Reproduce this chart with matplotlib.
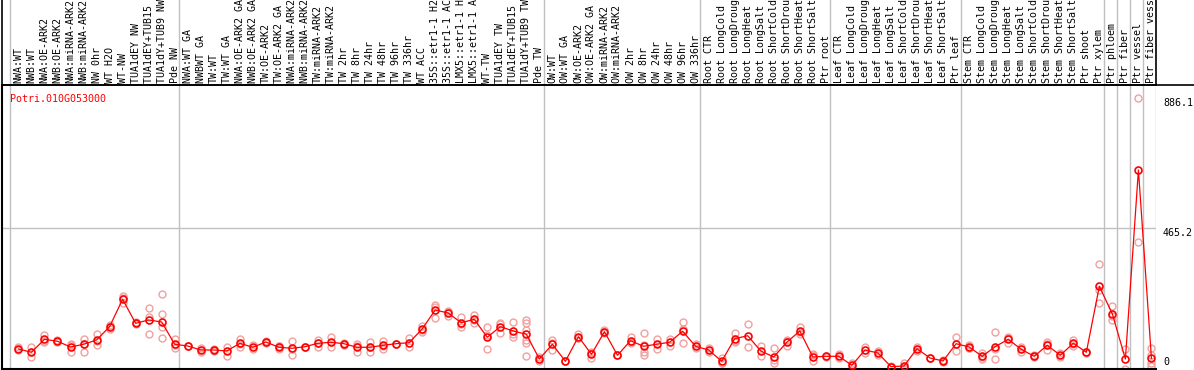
import matplotlib
matplotlib.use("Agg")
import matplotlib.pyplot as plt
from matplotlib.lines import Line2D
from matplotlib.transforms import blended_transform_factory

gene = "Potri.010G053000"

samples = [
    "NWA:WT", "NWB:WT", "NWA:OE-ARK2", "NWB:OE-ARK2", "NWA:miRNA-ARK2", "NWB:miRNA-ARK2",
    "NW 0hr", "WT H2O", "WT-NW", "TUA1dEY NW", "TUA1dEY+TUB15 NW", "TUA1dY+TUB9 NW", "Pde NW",
    "NWA:WT GA", "NWBWT GA", "TW:WT", "TW:WT GA", "NWA:OE-ARK2 GA", "NWB:OE-ARK2 GA",
    "TW:OE-ARK2", "TW:OE-ARK2 GA", "NWA:miRNA-ARK2 GA", "NWB:miRNA-ARK2 GA", "TW:miRNA-ARK2",
    "TW:miRNA-ARK2 GA", "TW 2hr", "TW 8hr", "TW 24hr", "TW 48hr", "TW 96hr", "TW 336hr",
    "WT ACC", "35S::etr1-1 H2O", "35S::etr1-1 ACC", "LMX5::etr1-1 H2O", "LMX5::etr1-1 ACC",
    "WT-TW", "TUA1dEY TW", "TUA1dEY+TUB15 TW", "TUA1dY+TUB9 TW", "Pde TW",
    "OW:WT", "OW:WT GA", "OW:OE-ARK2", "OW:OE-ARK2 GA", "OW:miRNA-ARK2", "OW:miRNA-ARK2 GA",
    "OW 2hr", "OW 8hr", "OW 24hr", "OW 48hr", "OW 96hr", "OW 336hr",
    "Root CTR", "Root LongCold", "Root LongDrought", "Root LongHeat", "Root LongSalt",
    "Root ShortCold", "Root ShortDrought", "Root ShortHeat", "Root ShortSalt", "Ptr root",
    "Leaf CTR", "Leaf LongCold", "Leaf LongDrought", "Leaf LongHeat", "Leaf LongSalt",
    "Leaf ShortCold", "Leaf ShortDrought", "Leaf ShortHeat", "Leaf ShortSalt", "Ptr leaf",
    "Stem CTR", "Stem LongCold", "Stem LongDrought", "Stem LongHeat", "Stem LongSalt",
    "Stem ShortCold", "Stem ShortDrought", "Stem ShortHeat", "Stem ShortSalt", "Ptr shoot",
    "Ptr xylem", "Ptr phloem", "Ptr fiber", "Ptr vessel", "Ptr fiber vessel",
]

means = [
    73.5, 62.8, 104.9, 98.4, 80.0, 88.7, 102.6, 145.7, 234.4, 156.7, 167.4, 160.9, 88.7,
    83.2, 70.2, 70.2, 67.0, 91.9, 79.0, 96.1, 79.0, 75.7, 80.9, 91.9, 95.2, 90.6, 79.0,
    79.0, 85.5, 90.6, 93.9, 138.2, 199.7, 190.0, 158.6, 169.6, 111.4, 145.7, 131.7, 121.1, 41.1,
    88.7, 33.7, 113.3, 56.3, 129.5, 53.1, 100.3, 82.2, 88.7, 95.2, 130.8, 82.2,
    70.2, 33.7, 106.8, 116.5, 67.0, 47.6, 95.2, 131.7, 47.6, 49.8,
    49.8, 20.7, 70.2, 60.5, 16.2, 18.5, 74.5, 44.3, 34.6, 90.6,
    80.0, 49.8, 80.9, 104.9, 72.5, 49.8, 85.5, 53.1, 91.9, 62.8, 276.4,
    186.8, 41.1, 652.9, 43.4,
]

replicates = [
    [79, 70], [79, 49], [119, 100, 96], [102, 95], [86, 63, 91], [106, 63, 89], [122, 87, 100],
    [137, 148, 152], [221, 238, 244], [160, 154], [205, 121, 176], [250, 187, 144, 108], [105, 76, 85],
    [83, 83], [76, 65], [75, 68], [81, 52], [106, 79, 90], [72, 86], [98, 94], [83, 72, 82],
    [99, 54, 74], [81, 80], [103, 79, 94], [111, 79], [91, 93, 88], [90, 65, 82], [95, 63, 79],
    [100, 72, 84], [91, 90], [109, 79], [149, 130, 136], [215, 175, 209], [194, 180, 196],
    [178, 154, 144], [184, 157, 168], [144, 72, 118], [159, 124, 154], [161, 113, 121],
    [167, 157, 135, 103, 92, 52], [49, 33],
    [103, 70, 93], [34, 33], [122, 108, 110], [65, 43, 61], [135, 126, 128], [53, 54],
    [113, 92, 96], [124, 65, 54, 86], [105, 72], [107, 83], [161, 92, 139], [90, 76],
    [76, 65], [43, 29, 29], [124, 97, 99], [153, 81], [83, 51], [76, 29, 38], [103, 83, 100],
    [146, 122, 127], [56, 33, 54], [50, 49],
    [57, 43], [27, 15], [81, 59], [67, 54], [18, 14], [27, 16, 12], [81, 68], [44, 45],
    [38, 31], [113, 68],
    [86, 76, 78], [59, 42, 48], [128, 42, 72], [113, 94, 108], [81, 65], [54, 46], [96, 70, 90],
    [59, 47], [103, 83, 90], [63, 62], [349, 264, 221],
    [213, 167, 180], [72, 10], [886.1, 418.9], [76, 27, 18, 53],
]

group_starts = [0, 13, 41, 53, 63, 73, 84, 85, 86, 87, 88]
axis_ticks = [0, 465.2, 886.1]
axis_tick_labels = ["0", "465.2", "886.1"]

W, H = 1194, 370
DPI = 100
fig = plt.figure(figsize=(W / DPI, H / DPI), dpi=DPI)
fig.patch.set_facecolor("white")


def rect(x0, y0, x1, y1):
    return [x0 / W, 1 - y1 / H, (x1 - x0) / W, (y1 - y0) / H]


MONO = "DejaVu Sans Mono"
FS = 7.2
GRID = "#c0c0c0"
OFF = 0.65
xlim = (-2 * OFF, len(samples) - OFF)

# main plot axes
ax = fig.add_axes(rect(1.5, 85, 1156, 369))
ax.set_xlim(*xlim)
ax.set_ylim(8.7, 928.1)
for s in ["top", "right"]:
    ax.spines[s].set_visible(False)
for s in ["left", "bottom"]:
    ax.spines[s].set_linewidth(1.5)
    ax.spines[s].set_color("black")
ax.set_xticks([])
ax.set_yticks([])

for g in group_starts:
    ax.axvline(g - OFF, color=GRID, lw=1.0, zorder=1)
ax.axhline(axis_ticks[1], color=GRID, lw=1.0, zorder=1)

xs = list(range(len(samples)))
rx, ry = [], []
for i, reps in enumerate(replicates):
    for r in reps:
        rx.append(i)
        ry.append(r)
ax.plot(rx, ry, linestyle="none", marker="o", ms=5.0, mfc="none", mec="#f0a0a0",
        mew=1.0, zorder=2, clip_on=False)
ax.plot(xs, means, color="red", lw=0.9, zorder=3, clip_on=False)
ax.plot(xs, means, linestyle="none", marker="o", ms=5.0, mfc="none", mec="red",
        mew=1.2, zorder=4, clip_on=False)

ax.text(-0.65, 0.97, gene, transform=blended_transform_factory(ax.transData, ax.transAxes),
        color="red", fontsize=FS, family=MONO, ha="left", va="top")

tr = blended_transform_factory(ax.transAxes, ax.transData)
ax.text(1.006, axis_ticks[2], axis_tick_labels[2], transform=tr, fontsize=FS, family=MONO,
        ha="left", va="top", clip_on=False)
ax.text(1.006, axis_ticks[1], axis_tick_labels[1], transform=tr, fontsize=FS, family=MONO,
        ha="left", va="top", clip_on=False)
ax.text(1.006, 0.025, axis_tick_labels[0], transform=ax.transAxes, fontsize=FS, family=MONO,
        ha="left", va="center", clip_on=False)

# label header axes
lab = fig.add_axes(rect(1.5, 0, 1156, 85))
lab.set_xlim(*xlim)
lab.set_ylim(0, 1)
lab.set_xticks([])
lab.set_yticks([])
for s in lab.spines.values():
    s.set_linewidth(1.2)
    s.set_color("black")
lab.spines["top"].set_visible(False)
for g in group_starts[:-1]:
    lab.axvline(g - OFF, color=GRID, lw=1.0, zorder=1)
for i, name in enumerate(samples):
    lab.text(i, 0.02, name, rotation=90, fontsize=FS, family=MONO,
             ha="center", va="bottom", clip_on=True)

fig.add_artist(Line2D([1.5 / W, 1.0], [1 - 85 / H, 1 - 85 / H], color="black", lw=1.2,
                      transform=fig.transFigure))

fig.savefig("out.png", dpi=DPI, facecolor="white")
